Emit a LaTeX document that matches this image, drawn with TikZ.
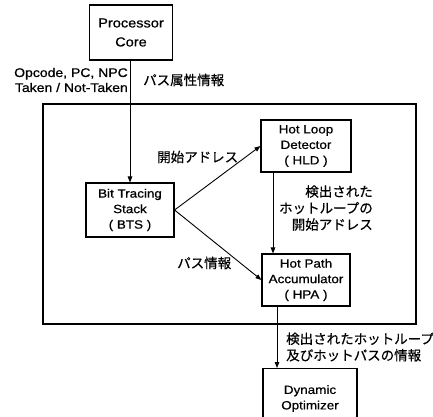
\documentclass[tikz,border=0pt]{standalone}
\usepackage{fontspec}
\setmainfont{Liberation Sans}
\newfontfamily\boxfont[FakeStretch=1.12,FakeBold=0.7]{Liberation Sans}
\newfontfamily\jpfont[FakeBold=0.5]{Noto Sans CJK JP}
\usetikzlibrary{arrows.meta}
\begin{document}
\begin{tikzpicture}[x=1pt,y=-1pt,
  blk/.style={draw,line width=1.1pt,inner sep=0pt,align=center,
    font=\boxfont\fontsize{12}{15.5}\selectfont},
  lbl/.style={inner sep=0pt,font=\boxfont\fontsize{12.5}{15}\selectfont},
  jlbl/.style={inner sep=0pt,font=\jpfont\fontsize{13.5}{16.5}\selectfont},
  arr/.style={line width=0.9pt,-{Triangle[length=6pt,width=4.5pt]}}]
\useasboundingbox (0,0) rectangle (433,416);
\clip (0,0) rectangle (433,416);
\node[blk,minimum width=83pt,minimum height=55pt,
  font=\boxfont\fontsize{13}{19}\selectfont] (pc) at (131,32.5) {Processor\\Core};
\node[draw,line width=2pt,minimum width=373pt,minimum height=220pt] (frame) at (229.5,214) {};
\node[blk,minimum width=88pt,minimum height=54pt] (bts) at (130,210) {Bit Tracing\\Stack\\( BTS )};
\node[blk,minimum width=90pt,minimum height=52pt] (hld) at (306,146) {Hot Loop\\Detector\\( HLD )};
\node[blk,minimum width=88pt,minimum height=52pt] (hpa) at (306,280) {Hot Path\\Accumulator\\( HPA )};
\node[blk,minimum width=94pt,minimum height=60pt,anchor=north] (dyo) at (310,368) {\raisebox{-6pt}{\begin{tabular}{@{}c@{}}Dynamic\\Optimizer\end{tabular}}};
\coordinate (hpaout) at ([xshift=-29pt]hpa.south);
\draw[arr] (pc.south -| bts.north) -- (bts.north);
\draw[arr] (bts.east) -- (hld.west);
\draw[arr] (bts.east) -- (hpa.west);
\draw[arr] ([xshift=-33pt]hld.south) -- ([xshift=-33pt]hpa.north);
\draw[arr] (hpaout) -- (dyo.north -| hpaout);
\node[lbl,anchor=east,align=right] (l1) at (128,80) {Opcode, PC, NPC\\Taken / Not-Taken};
\node[jlbl,anchor=west] (l2) at (143,80) {パス属性情報};
\node[jlbl,anchor=west] (l3) at (157,157) {開始アドレス};
\node[jlbl,anchor=east,align=right] (l4) at (373,208) {検出された\\ホットループの\\開始アドレス};
\node[jlbl,anchor=west] (l5) at (177,263) {パス情報};
\node[jlbl,anchor=west,align=left] (l6) at (286,347) {検出されたホットループ\\及びホットパスの情報};
\end{tikzpicture}
\end{document}
